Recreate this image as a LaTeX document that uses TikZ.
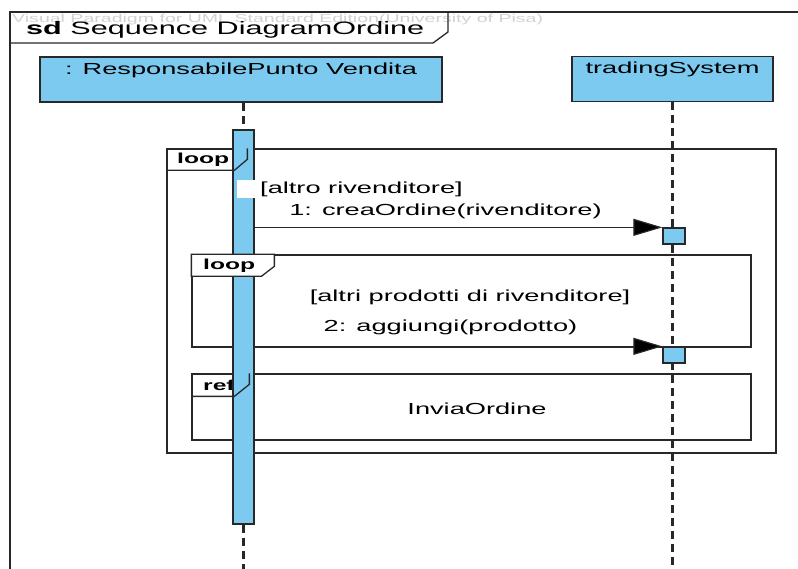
\documentclass[tikz,border=0pt]{standalone}
\usepackage{fontspec}
\setmainfont{Liberation Sans}[FakeStretch=1.7]
\usetikzlibrary{arrows.meta,calc}
\definecolor{lifeblue}{RGB}{124,202,240}
\definecolor{linec}{RGB}{40,40,40}
\begin{document}
\begin{tikzpicture}[x=1pt,y=-1pt,
  lbl/.style={font=\fontsize{16}{18}\selectfont, inner sep=0pt},
  tag/.style={font=\bfseries\fontsize{14.5}{17}\selectfont, inner sep=0pt, anchor=west},
  head/.style={draw=linec, line width=1.3pt, fill=lifeblue, inner sep=0pt, minimum height=45pt},
  actbar/.style={draw=linec, line width=1.3pt, fill=lifeblue, inner sep=0pt},
  life/.style={draw=linec, line width=2.2pt, dash pattern=on 8pt off 5pt},
  frag/.style={draw=linec, line width=1.3pt, fill=white, inner sep=0pt},
  tabline/.style={draw=linec, line width=1.3pt},
  msg/.style={draw=linec, line width=1.2pt, -{Triangle[length=29pt,width=17pt,fill=black]}},
]
\useasboundingbox (0,0) rectangle (798,569);
\clip (0,0) rectangle (798,569);
\fill[white] (0,0) rectangle (798,569);

% diagram frame (continues past the page on the right and below)
\coordinate (fr) at (10,12);
\draw[linec, line width=2pt] (10,600) -- (fr) -- (820,12);
\node[anchor=west, text=gray!35, font=\fontsize{11.5}{13}\selectfont, inner sep=0pt] (wm) at (12,20)
  {Visual Paradigm for UML Standard Edition(University of Pisa)};
\node[anchor=west, font=\fontsize{18}{20}\selectfont, inner sep=0pt] (title) at (26,30)
  {\textbf{sd} Sequence DiagramOrdine};
\draw[tabline] ($(fr)+(438,0)$) -- ++(0,20) -- ++(-15,11) -- ($(fr)+(0,31)$);

% combined fragments
\node[frag, minimum width=609pt, minimum height=304pt] (loopA) at (471.5,301) {};

\node[frag, minimum width=559pt, minimum height=92pt] (loopB) at (471.5,301) {};
\node[lbl] (guardB) at (470,297) {[altri prodotti di rivenditore]};

\node[frag, minimum width=559pt, minimum height=66pt] (refC) at (471.5,407) {};
\node[tag] (refCtag) at (203,385) {ref};
\node[lbl] (refCtext) at (477,409) {InviaOrdine};

% lifelines
\node[head, minimum width=402pt] (rpv) at (241,79.5) {};
\node[lbl, anchor=north] (rpvname) at ($(rpv.north)+(0,6)$) {: ResponsabilePunto Vendita};
\node[head, minimum width=201pt] (ts) at (672.5,79) {};
\node[lbl, anchor=north] (tsname) at ($(ts.north)+(0,6)$) {tradingSystem};

\node[actbar, minimum width=21pt, minimum height=394pt] (act1) at (243.5,327) {};
\coordinate (end1) at (242,580);
\draw[life] (act1.north |- rpv.south) -- (act1.north);
\draw[life] (act1.south) -- (act1.south |- end1);
\draw[life] (ts.south) -- (ts.south |- end1);

\node[actbar, minimum width=22pt, minimum height=16pt] (act2a) at (674,236) {};
\node[actbar, minimum width=22pt, minimum height=16pt] (act2b) at (674,355) {};

% fragment tabs, over the activation bar
\draw[tabline] ($(loopA.north west)+(81,0)$) -- ++(0,11) -- ++(-13,11) -- ($(loopA.north west)+(0,22)$);
\node[tag] (loopAtag) at (177,160) {loop};
\filldraw[tabline, fill=white] (loopB.north west) -- ++(83,0) -- ++(0,12) -- ++(-13,10) -- ($(loopB.north west)+(0,22)$) -- cycle;
\node[tag] (loopBtag) at (203,266) {loop};
\draw[tabline] ($(refC.north west)+(58,0)$) -- ++(0,11) -- ++(-15,12) -- ($(refC.north west)+(0,23)$);

% guard of the outer loop, on a white ground
\node[lbl, anchor=west, fill=white, minimum height=18pt] (guardA) at (237,189)
  {\hspace*{23pt}[altro rivenditore]};

% messages
\draw[msg] (act1.east |- act2a.north) -- (act2a.north west)
  node[lbl, midway, above=8pt, xshift=-13pt] (m1) {1: creaOrdine(rivenditore)};
\draw[msg] (act1.east |- act2b.north) -- (act2b.north west)
  node[lbl, midway, above=11pt, xshift=-8pt] (m2) {2: aggiungi(prodotto)};
\end{tikzpicture}
\end{document}
